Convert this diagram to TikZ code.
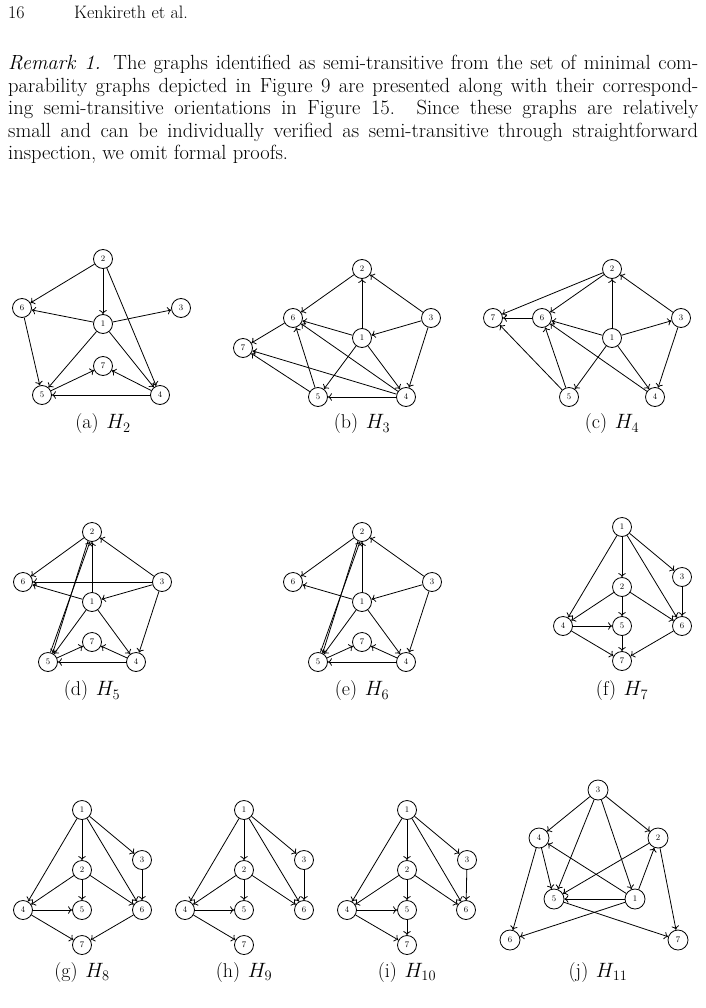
\documentclass[tikz,border=0pt]{standalone}
\usetikzlibrary{arrows.meta}
\tikzset{
  v/.style={circle,draw,line width=0.8pt,minimum size=19pt,inner sep=0pt,font=\fontsize{8.5}{9}\selectfont},
  e/.style={-{Computer Modern Rightarrow[length=4pt,width=7.5pt,line width=0.8pt]},line width=0.8pt},
  capt/.style={font=\fontsize{20}{24}\selectfont,inner sep=0pt},
  bodyline/.style={anchor=base west,inner sep=0pt,font=\fontsize{20.5}{24}\selectfont},
}
\newcommand{\capgap}{\hspace{0.38em}}
\begin{document}
\begin{tikzpicture}[x=1pt,y=-1pt]
\useasboundingbox (0,0) rectangle (705,1008);
% header
\node[anchor=base west,inner sep=0pt,font=\fontsize{18}{22}\selectfont] (pg) at (8,19) {16};
\node[anchor=base west,inner sep=0pt,font=\fontsize{18}{22}\selectfont] (rh) at (74,19) {Kenkireth et al.};
% remark
\node[bodyline] (l1) at (8,70) {\makebox[690pt][s]{\textit{Remark 1.} The graphs identified as semi-transitive from the set of minimal com-}};
\node[bodyline] (l2) at (8,92.5) {\makebox[690pt][s]{parability graphs depicted in Figure 9 are presented along with their correspond-}};
\node[bodyline] (l3) at (8,115) {\makebox[690pt][s]{ing semi-transitive orientations in Figure 15. Since these graphs are relatively}};
\node[bodyline] (l4) at (8,137.5) {\makebox[690pt][s]{small and can be individually verified as semi-transitive through straightforward}};
\node[bodyline] (l5) at (8,160) {inspection, we omit formal proofs.};

% (a) H2
\node[v] (a2) at (103,259) {2};
\node[v] (a6) at (22,308) {6};
\node[v] (a3) at (181,308) {3};
\node[v] (a1) at (103,324) {1};
\node[v] (a7) at (103,366) {7};
\node[v] (a5) at (42,395) {5};
\node[v] (a4) at (160,395) {4};
\draw[e] (a2) -- (a6);
\draw[e] (a2) -- (a1);
\draw[e] (a2) -- (a4);
\draw[e] (a1) -- (a6);
\draw[e] (a1) -- (a3);
\draw[e] (a1) -- (a5);
\draw[e] (a1) -- (a4);
\draw[e] (a6) -- (a5);
\draw[e] (a5) -- (a7);
\draw[e] (a4) -- (a7);
\draw[e] (a4) -- (a5);
\node[capt] (capa) at (103,424) {(a)\capgap$H_2$};

% (b) H3
\node[v] (b2) at (362,269) {2};
\node[v] (b6) at (293,318) {6};
\node[v] (b3) at (431,318) {3};
\node[v] (b1) at (362,338) {1};
\node[v] (b7) at (243,348) {7};
\node[v] (b5) at (318,397) {5};
\node[v] (b4) at (406,397) {4};
\draw[e] (b2) -- (b6);
\draw[e] (b1) -- (b2);
\draw[e] (b3) -- (b2);
\draw[e] (b3) -- (b1);
\draw[e] (b3) -- (b4);
\draw[e] (b1) -- (b6);
\draw[e] (b6) -- (b7);
\draw[e] (b1) -- (b5);
\draw[e] (b1) -- (b4);
\draw[e] (b4) -- (b6);
\draw[e] (b5) -- (b6);
\draw[e] (b5) -- (b7);
\draw[e] (b4) -- (b7);
\draw[e] (b4) -- (b5);
\node[capt] (capb) at (362,424) {(b)\capgap$H_3$};

% (c) H4
\node[v] (c2) at (612,269) {2};
\node[v] (c7) at (493,318) {7};
\node[v] (c6) at (542,318) {6};
\node[v] (c3) at (681,318) {3};
\node[v] (c1) at (612,338) {1};
\node[v] (c5) at (569,397) {5};
\node[v] (c4) at (655,397) {4};
\draw[e] (c2) -- (c7);
\draw[e] (c2) -- (c6);
\draw[e] (c1) -- (c2);
\draw[e] (c3) -- (c2);
\draw[e] (c6) -- (c7);
\draw[e] (c1) -- (c6);
\draw[e] (c1) -- (c3);
\draw[e] (c3) -- (c4);
\draw[e] (c1) -- (c5);
\draw[e] (c1) -- (c4);
\draw[e] (c4) -- (c6);
\draw[e] (c5) -- (c6);
\draw[e] (c5) -- (c7);
\node[capt] (capc) at (612,424) {(c)\capgap$H_4$};

% (d) H5
\node[v] (d2) at (92,532) {2};
\node[v] (d6) at (23,582) {6};
\node[v] (d3) at (162,582) {3};
\node[v] (d1) at (92,602) {1};
\node[v] (d7) at (92,642) {7};
\node[v] (d5) at (48,662) {5};
\node[v] (d4) at (136,662) {4};
\draw[e] (d2) -- (d6);
\draw[e] (d1) -- (d2);
\draw[e] (d3) -- (d2);
\draw[e] (d3) -- (d6);
\draw[e] (d1) -- (d6);
\draw[e] (d3) -- (d1);
\draw[e] (d3) -- (d4);
\draw[e] (d1) -- (d5);
\draw[e] (d1) -- (d4);
\draw[e] (d5.76) -- (d2.258);
\draw[e] (d2.246) -- (d5.62);
\draw[e] (d5) -- (d7);
\draw[e] (d4) -- (d7);
\draw[e] (d4) -- (d5);
\node[capt] (capd) at (92,691) {(d)\capgap$H_5$};

% (e) H6
\node[v] (e2) at (362,532) {2};
\node[v] (e6) at (293,582) {6};
\node[v] (e3) at (432,582) {3};
\node[v] (e1) at (362,602) {1};
\node[v] (e7) at (362,642) {7};
\node[v] (e5) at (318,662) {5};
\node[v] (e4) at (406,662) {4};
\draw[e] (e2) -- (e6);
\draw[e] (e1) -- (e2);
\draw[e] (e3) -- (e2);
\draw[e] (e1) -- (e6);
\draw[e] (e3) -- (e1);
\draw[e] (e3) -- (e4);
\draw[e] (e1) -- (e5);
\draw[e] (e1) -- (e4);
\draw[e] (e5.76) -- (e2.258);
\draw[e] (e2.246) -- (e5.62);
\draw[e] (e5) -- (e7);
\draw[e] (e4) -- (e7);
\draw[e] (e4) -- (e5);
\node[capt] (cape) at (362,691) {(e)\capgap$H_6$};

% (f) H7
\node[v] (f1) at (622,527) {1};
\node[v] (f3) at (682,577) {3};
\node[v] (f2) at (622,587) {2};
\node[v] (f4) at (563,626) {4};
\node[v] (f5) at (622,626) {5};
\node[v] (f6) at (682,626) {6};
\node[v] (f7) at (622,661) {7};
\draw[e] (f1) -- (f2);
\draw[e] (f1) -- (f3);
\draw[e] (f1) -- (f4);
\draw[e] (f1) -- (f6);
\draw[e] (f2) -- (f4);
\draw[e] (f2) -- (f5);
\draw[e] (f2) -- (f6);
\draw[e] (f3) -- (f6);
\draw[e,line width=1pt] (f4) -- (f5);
\draw[e] (f4) -- (f7);
\draw[e] (f5) -- (f7);
\draw[e] (f6) -- (f7);
\node[capt] (capf) at (622,691) {(f)\capgap$H_7$};

% (g) H8
\node[v] (g1) at (82,810) {1};
\node[v] (g3) at (142,860) {3};
\node[v] (g2) at (82,870) {2};
\node[v] (g4) at (23,910) {4};
\node[v] (g5) at (82,910) {5};
\node[v] (g6) at (142,910) {6};
\node[v] (g7) at (82,945) {7};
\draw[e] (g1) -- (g2);
\draw[e] (g1) -- (g3);
\draw[e] (g1) -- (g4);
\draw[e] (g1) -- (g6);
\draw[e] (g2) -- (g4);
\draw[e] (g2) -- (g5);
\draw[e] (g2) -- (g6);
\draw[e] (g3) -- (g6);
\draw[e,line width=1pt] (g4) -- (g5);
\draw[e] (g4) -- (g7);
\draw[e] (g6) -- (g7);
\node[capt] (capg) at (82,972) {(g)\capgap$H_8$};

% (h) H9
\node[v] (h1) at (244,810) {1};
\node[v] (h3) at (304,860) {3};
\node[v] (h2) at (244,870) {2};
\node[v] (h4) at (185,910) {4};
\node[v] (h5) at (244,910) {5};
\node[v] (h6) at (304,910) {6};
\node[v] (h7) at (244,945) {7};
\draw[e] (h1) -- (h2);
\draw[e] (h1) -- (h3);
\draw[e] (h1) -- (h4);
\draw[e] (h1) -- (h6);
\draw[e] (h2) -- (h4);
\draw[e] (h2) -- (h5);
\draw[e] (h2) -- (h6);
\draw[e] (h3) -- (h6);
\draw[e,line width=1pt] (h4) -- (h5);
\draw[e] (h4) -- (h7);
\node[capt] (caph) at (244,972) {(h)\capgap$H_9$};

% (i) H10
\node[v] (i1) at (407,810) {1};
\node[v] (i3) at (467,860) {3};
\node[v] (i2) at (407,870) {2};
\node[v] (i4) at (347,910) {4};
\node[v] (i5) at (407,910) {5};
\node[v] (i6) at (466,910) {6};
\node[v] (i7) at (407,945) {7};
\draw[e] (i1) -- (i2);
\draw[e] (i1) -- (i3);
\draw[e] (i1) -- (i4);
\draw[e] (i1) -- (i6);
\draw[e] (i2) -- (i4);
\draw[e] (i2) -- (i5);
\draw[e] (i2) -- (i6);
\draw[e] (i3) -- (i6);
\draw[e,line width=1pt] (i4) -- (i5);
\draw[e] (i4) -- (i7);
\draw[e] (i5) -- (i7);
\node[capt] (capi) at (407,972) {(i)\capgap$H_{10}$};

% (j) H11
\node[v,minimum size=20pt] (j3) at (598,790) {3};
\node[v,minimum size=20pt] (j4) at (539,838) {4};
\node[v,minimum size=20pt] (j2) at (658,838) {2};
\node[v,minimum size=20pt] (j5) at (554,899) {5};
\node[v,minimum size=20pt] (j1) at (635,899) {1};
\node[v,minimum size=20pt] (j6) at (510,940) {6};
\node[v,minimum size=20pt] (j7) at (678,940) {7};
\draw[e] (j3) -- (j4);
\draw[e] (j3) -- (j2);
\draw[e] (j3) -- (j5);
\draw[e] (j3) -- (j1);
\draw[e] (j4) -- (j5);
\draw[e] (j4) -- (j6);
\draw[e] (j1) -- (j4);
\draw[e] (j2) -- (j5);
\draw[e] (j1) -- (j2);
\draw[e,line width=1pt] (j1) -- (j5);
\draw[e] (j1) -- (j6);
\draw[e] (j5) -- (j7);
\draw[e] (j2) -- (j7);
\node[capt] (capj) at (598,972) {(j)\capgap$H_{11}$};
\end{tikzpicture}
\end{document}
